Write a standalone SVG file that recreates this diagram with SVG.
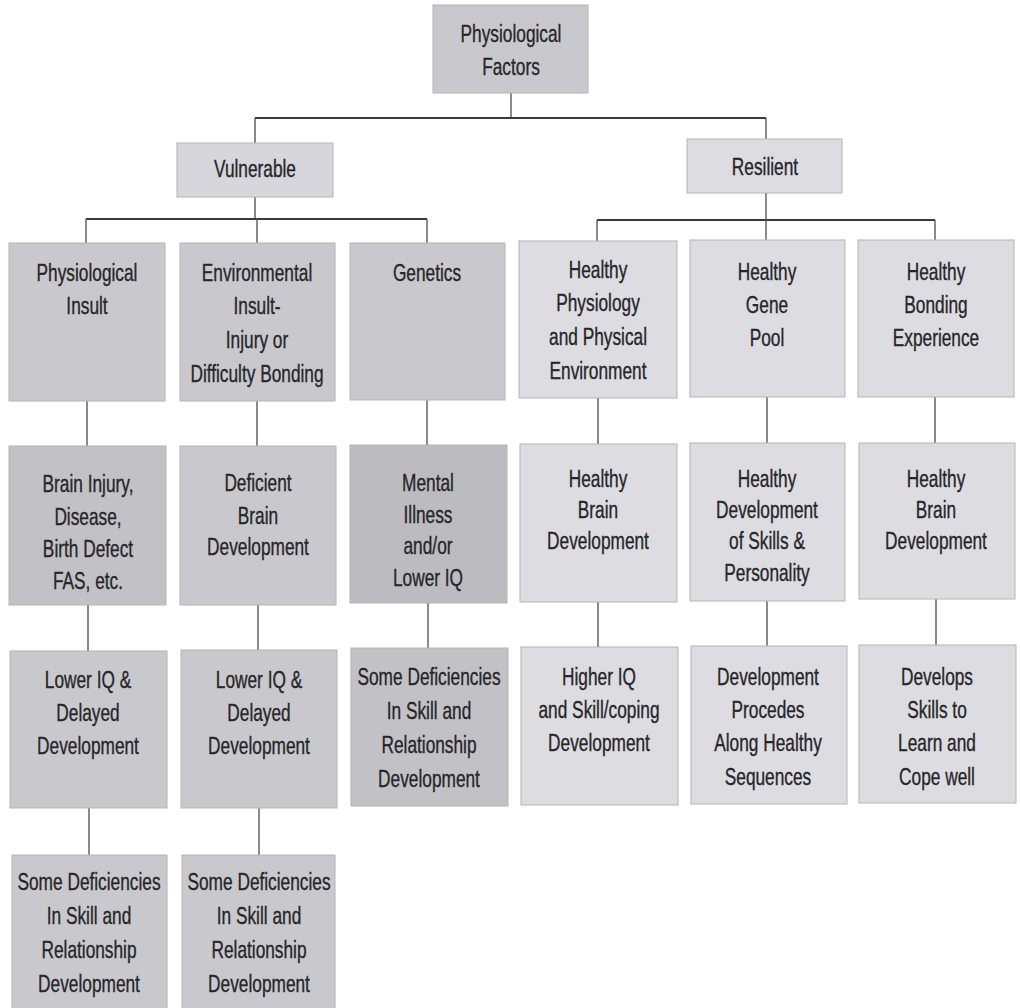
<svg xmlns="http://www.w3.org/2000/svg" width="1020" height="1008" viewBox="0 0 1020 1008">
<style>
.bg{fill:#ffffff}
.box{stroke:#b4b4b8;stroke-width:1}
.d1{fill:#c9c9cd}
.d2{fill:#c2c2c6}
.d3{fill:#bcbcc0}
.lt{fill:#dcdce1}
.lt2{fill:#d6d6dc}
.t{font-family:"Liberation Sans",Arial,sans-serif;font-size:24px;fill:#262629;stroke:#262629;stroke-width:0.35;text-anchor:middle}
.h{stroke:#3a3a3c;stroke-width:2;fill:none}
.v{stroke:#5a5a5c;stroke-width:1.4;fill:none}
</style>
<rect class="bg" x="0" y="0" width="1020" height="1008"/>
<g id="connectors">
<path class="v" d="M511 93V118"/>
<path class="h" d="M255 118H766"/>
<path class="v" d="M255 118V143M766 118V139"/>
<path class="v" d="M255 197V219M766 193V220"/>
<path class="h" d="M86 219H427M597 220H935"/>
<path class="v" d="M86 219V243M257 219V243M427 219V243M597 220V241M766 220V241M935 220V241"/>
<path class="v" d="M87 401V446M257 401V446M427 400V445M598 398V444M767 397V443M935 397V443"/>
<path class="v" d="M88 605V651M258 605V650M428 603V648M598 602V647M767 601V646M936 599V645"/>
<path class="v" d="M89 808V855M259 808V855"/>
</g>
<g id="n-root"><rect class="box d1" x="433" y="5" width="155" height="88"/>
<text class="t" transform="translate(511 0) scale(0.72 1)"><tspan x="0" y="42">Physiological</tspan><tspan x="0" y="75">Factors</tspan></text></g>
<g id="n-vulnerable"><rect class="box lt2" x="177" y="143" width="156" height="54"/>
<text class="t" transform="translate(255 0) scale(0.72 1)"><tspan x="0" y="177">Vulnerable</tspan></text></g>
<g id="n-resilient"><rect class="box lt" x="687" y="139" width="155" height="54"/>
<text class="t" transform="translate(765 0) scale(0.72 1)"><tspan x="0" y="175">Resilient</tspan></text></g>

<g id="n-phys-insult"><rect class="box d1" x="9" y="243" width="156" height="158"/>
<text class="t" transform="translate(87 0) scale(0.72 1)"><tspan x="0" y="281">Physiological</tspan><tspan x="0" y="314">Insult</tspan></text></g>
<g id="n-env-insult"><rect class="box d1" x="180" y="243" width="155" height="158"/>
<text class="t" transform="translate(257 0) scale(0.72 1)"><tspan x="0" y="281">Environmental</tspan><tspan x="0" y="314">Insult-</tspan><tspan x="0" y="348">Injury or</tspan><tspan x="0" y="382">Difficulty Bonding</tspan></text></g>
<g id="n-genetics"><rect class="box d1" x="350" y="243" width="155" height="157"/>
<text class="t" transform="translate(427 0) scale(0.72 1)"><tspan x="0" y="281">Genetics</tspan></text></g>
<g id="n-healthy-phys"><rect class="box lt" x="519" y="241" width="158" height="157"/>
<text class="t" transform="translate(598 0) scale(0.72 1)"><tspan x="0" y="278">Healthy</tspan><tspan x="0" y="311">Physiology</tspan><tspan x="0" y="345">and Physical</tspan><tspan x="0" y="379">Environment</tspan></text></g>
<g id="n-healthy-gene"><rect class="box lt" x="690" y="240" width="155" height="157"/>
<text class="t" transform="translate(767 0) scale(0.72 1)"><tspan x="0" y="280">Healthy</tspan><tspan x="0" y="313">Gene</tspan><tspan x="0" y="346">Pool</tspan></text></g>
<g id="n-healthy-bond"><rect class="box lt" x="858" y="240" width="156" height="157"/>
<text class="t" transform="translate(936 0) scale(0.72 1)"><tspan x="0" y="280">Healthy</tspan><tspan x="0" y="313">Bonding</tspan><tspan x="0" y="346">Experience</tspan></text></g>

<g id="n-brain-injury"><rect class="box d2" x="9" y="446" width="157" height="159"/>
<text class="t" transform="translate(88 0) scale(0.72 1)"><tspan x="0" y="492">Brain Injury,</tspan><tspan x="0" y="525">Disease,</tspan><tspan x="0" y="557">Birth Defect</tspan><tspan x="0" y="589">FAS, etc.</tspan></text></g>
<g id="n-deficient-brain"><rect class="box d1" x="180" y="446" width="156" height="159"/>
<text class="t" transform="translate(258 0) scale(0.72 1)"><tspan x="0" y="491">Deficient</tspan><tspan x="0" y="524">Brain</tspan><tspan x="0" y="555">Development</tspan></text></g>
<g id="n-mental"><rect class="box d3" x="350" y="445" width="157" height="158"/>
<text class="t" transform="translate(428 0) scale(0.72 1)"><tspan x="0" y="491">Mental</tspan><tspan x="0" y="523">Illness</tspan><tspan x="0" y="554">and/or</tspan><tspan x="0" y="586">Lower IQ</tspan></text></g>
<g id="n-healthy-brain1"><rect class="box lt" x="520" y="444" width="157" height="158"/>
<text class="t" transform="translate(598 0) scale(0.72 1)"><tspan x="0" y="487">Healthy</tspan><tspan x="0" y="518">Brain</tspan><tspan x="0" y="549">Development</tspan></text></g>
<g id="n-healthy-dev"><rect class="box lt" x="690" y="443" width="155" height="158"/>
<text class="t" transform="translate(767 0) scale(0.72 1)"><tspan x="0" y="487">Healthy</tspan><tspan x="0" y="518">Development</tspan><tspan x="0" y="549">of Skills &amp;</tspan><tspan x="0" y="581">Personality</tspan></text></g>
<g id="n-healthy-brain2"><rect class="box lt" x="859" y="443" width="156" height="156"/>
<text class="t" transform="translate(936 0) scale(0.72 1)"><tspan x="0" y="487">Healthy</tspan><tspan x="0" y="518">Brain</tspan><tspan x="0" y="549">Development</tspan></text></g>

<g id="n-lowiq1"><rect class="box d1" x="10" y="651" width="157" height="157"/>
<text class="t" transform="translate(88 0) scale(0.72 1)"><tspan x="0" y="688">Lower IQ &amp;</tspan><tspan x="0" y="721">Delayed</tspan><tspan x="0" y="754">Development</tspan></text></g>
<g id="n-lowiq2"><rect class="box d1" x="181" y="650" width="156" height="158"/>
<text class="t" transform="translate(259 0) scale(0.72 1)"><tspan x="0" y="688">Lower IQ &amp;</tspan><tspan x="0" y="721">Delayed</tspan><tspan x="0" y="754">Development</tspan></text></g>
<g id="n-somedef3"><rect class="box d2" x="351" y="648" width="157" height="158"/>
<text class="t" transform="translate(429 0) scale(0.72 1)"><tspan x="0" y="685">Some Deficiencies</tspan><tspan x="0" y="719">In Skill and</tspan><tspan x="0" y="753">Relationship</tspan><tspan x="0" y="787">Development</tspan></text></g>
<g id="n-higheriq"><rect class="box lt" x="521" y="647" width="157" height="158"/>
<text class="t" transform="translate(599 0) scale(0.72 1)"><tspan x="0" y="685">Higher IQ</tspan><tspan x="0" y="718">and Skill/coping</tspan><tspan x="0" y="751">Development</tspan></text></g>
<g id="n-procedes"><rect class="box lt" x="691" y="646" width="156" height="158"/>
<text class="t" transform="translate(768 0) scale(0.72 1)"><tspan x="0" y="685">Development</tspan><tspan x="0" y="718">Procedes</tspan><tspan x="0" y="751">Along Healthy</tspan><tspan x="0" y="785">Sequences</tspan></text></g>
<g id="n-develops"><rect class="box lt" x="859" y="645" width="157" height="158"/>
<text class="t" transform="translate(937 0) scale(0.72 1)"><tspan x="0" y="685">Develops</tspan><tspan x="0" y="718">Skills to</tspan><tspan x="0" y="751">Learn and</tspan><tspan x="0" y="785">Cope well</tspan></text></g>

<g id="n-somedef1"><rect class="box d1" x="12" y="855" width="155" height="160"/>
<text class="t" transform="translate(89 0) scale(0.72 1)"><tspan x="0" y="890">Some Deficiencies</tspan><tspan x="0" y="924">In Skill and</tspan><tspan x="0" y="958">Relationship</tspan><tspan x="0" y="992">Development</tspan></text></g>
<g id="n-somedef2"><rect class="box d1" x="182" y="855" width="153" height="160"/>
<text class="t" transform="translate(259 0) scale(0.72 1)"><tspan x="0" y="890">Some Deficiencies</tspan><tspan x="0" y="924">In Skill and</tspan><tspan x="0" y="958">Relationship</tspan><tspan x="0" y="992">Development</tspan></text></g>
</svg>
